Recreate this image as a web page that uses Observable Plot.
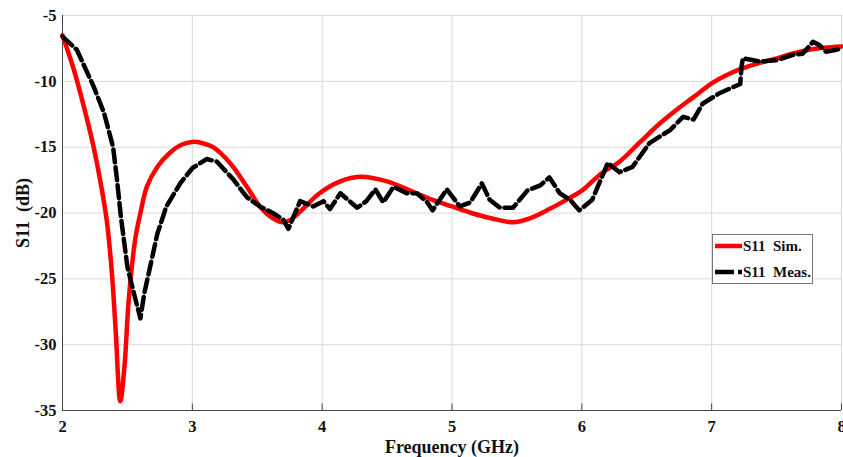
<!DOCTYPE html>
<html>
<head>
<meta charset="utf-8">
<script src="https://cdn.jsdelivr.net/npm/d3@7"></script>
<script src="https://cdn.jsdelivr.net/npm/@observablehq/plot@0.6"></script>
<style>
  html, body { margin: 0; padding: 0; background: #fff; }
  #wrap { position: relative; width: 843px; height: 457px; font-family: "Liberation Serif", "Times New Roman", serif; font-weight: bold; }
  #legend { position: absolute; left: 712px; top: 234px; width: 101px; height: 50px; border: 1px solid #777; background: #fff; box-sizing: border-box; }
  #legend .row { position: absolute; left: 2px; height: 18px; display: flex; align-items: center; font-size: 15px; color: #111; white-space: pre; }
  #legend svg { margin-right: 1px; }
</style>
</head>
<body>
<div id="wrap">
  <div id="chart"></div>
  <div id="legend">
    <div class="row" style="top:2px"><svg width="27" height="8"><line x1="0" y1="4" x2="27" y2="4" stroke="#ff0000" stroke-width="4.5"/></svg>S11  Sim.</div>
    <div class="row" style="top:28px"><svg width="27" height="8"><line x1="0" y1="4" x2="27" y2="4" stroke="#000" stroke-width="4.5" stroke-dasharray="19,4"/></svg>S11  Meas.</div>
  </div>
</div>
<script>
const xTicks = [2, 3, 4, 5, 6, 7, 8];
const yTicks = [-35, -30, -25, -20, -15, -10, -5];

const simFreq = [2.0, 2.087, 2.164, 2.24, 2.29, 2.34, 2.38, 2.41, 2.445, 2.477, 2.51, 2.56, 2.6, 2.65, 2.73, 2.83, 2.92, 3.0, 3.08, 3.16, 3.29, 3.42, 3.52, 3.62, 3.7, 3.76, 3.83, 3.98, 4.14, 4.29, 4.5, 4.7, 4.85, 5.0, 5.15, 5.3, 5.47, 5.6, 5.75, 5.88, 6.0, 6.15, 6.29, 6.45, 6.6, 6.75, 6.86, 7.0, 7.12, 7.24, 7.37, 7.5, 7.62, 7.75, 7.87, 8.0];
const simS11 = [-6.5, -9.1, -11.9, -15.0, -17.5, -20.5, -24.5, -29.0, -34.3, -31.7, -26.6, -22.0, -20.0, -18.0, -16.5, -15.4, -14.8, -14.6, -14.7, -15.0, -16.2, -18.0, -19.5, -20.4, -20.7, -20.5, -19.9, -18.5, -17.6, -17.25, -17.6, -18.4, -19.0, -19.5, -20.0, -20.4, -20.7, -20.4, -19.7, -19.0, -18.3, -17.0, -16.1, -14.6, -13.2, -12.0, -11.2, -10.15, -9.5, -9.0, -8.6, -8.25, -7.9, -7.6, -7.45, -7.35];

const measFreq = [2.0, 2.11, 2.24, 2.32, 2.39, 2.42, 2.45, 2.5, 2.55, 2.6, 2.63, 2.73, 2.8, 2.91, 3.0, 3.11, 3.19, 3.32, 3.42, 3.52, 3.62, 3.7, 3.74, 3.83, 3.93, 4.01, 4.06, 4.14, 4.27, 4.34, 4.41, 4.47, 4.55, 4.65, 4.73, 4.81, 4.85, 4.96, 5.06, 5.14, 5.23, 5.29, 5.37, 5.47, 5.58, 5.68, 5.75, 5.83, 5.91, 5.98, 6.08, 6.2, 6.29, 6.39, 6.52, 6.68, 6.78, 6.86, 6.93, 7.06, 7.22, 7.23, 7.24, 7.37, 7.5, 7.62, 7.7, 7.78, 7.83, 7.88, 7.96, 8.0];
const measS11 = [-6.6, -7.6, -10.4, -12.4, -15.0, -17.5, -20.3, -24.1, -26.1, -28.0, -26.1, -21.6, -19.5, -17.7, -16.6, -15.9, -16.1, -17.5, -18.8, -19.5, -20.0, -20.5, -21.2, -19.1, -19.5, -19.1, -19.7, -18.5, -19.6, -19.1, -18.2, -19.2, -18.0, -18.5, -18.5, -19.2, -19.8, -18.2, -19.5, -19.2, -17.75, -19.0, -19.6, -19.6, -18.3, -17.9, -17.3, -18.5, -19.0, -19.8, -19.0, -16.2, -16.9, -16.5, -14.7, -13.7, -12.7, -12.9, -11.7, -10.9, -10.2, -8.9, -8.25, -8.5, -8.4, -8.0, -7.9, -7.0, -7.25, -7.75, -7.6, -7.5];

const sim = simFreq.map((f, i) => ({f, v: simS11[i]}));
const meas = measFreq.map((f, i) => ({f, v: measS11[i]}));

const chart = Plot.plot({
  width: 843,
  height: 457,
  marginLeft: 62,
  marginRight: 2,
  marginTop: 15,
  marginBottom: 47,
  style: {fontFamily: "'Liberation Serif', 'Times New Roman', serif", fontWeight: "bold", fontSize: "16px", color: "#111", background: "#fff", overflow: "visible"},
  x: {type: "linear", domain: [2, 8]},
  y: {type: "linear", domain: [-35, -5]},
  marks: [
    Plot.gridX(xTicks, {stroke: "#d9d9d9", strokeOpacity: 1, strokeWidth: 1}),
    Plot.gridY(yTicks, {stroke: "#d9d9d9", strokeOpacity: 1, strokeWidth: 1}),
    Plot.ruleX([2], {stroke: "#444", strokeWidth: 1}),
    Plot.ruleY([-35], {stroke: "#444", strokeWidth: 1}),
    Plot.ruleX(xTicks, {x: d => d, y1: () => -35, y2: () => -34.5, stroke: "#444", strokeWidth: 1}),
    Plot.axisX(xTicks, {tickSize: 0, tickPadding: 10, tickFormat: d => d, fontSize: 16.5, label: null}),
    Plot.axisX({tickSize: 0, ticks: [], label: "Frequency (GHz)", labelAnchor: "center", labelOffset: 42, labelArrow: "none", fontSize: 18}),
    Plot.axisY(yTicks, {tickSize: 0, tickPadding: 6, tickFormat: d => d, fontSize: 16.5, label: null}),
    Plot.axisY({tickSize: 0, ticks: [], label: "S11\u00a0 (dB)", labelAnchor: "center", labelOffset: 46, labelArrow: "none", fontSize: 18}),
    Plot.line(sim, {x: "f", y: "v", stroke: "#ff0000", strokeWidth: 4.5, curve: "catmull-rom"}),
    Plot.line(meas, {x: "f", y: "v", stroke: "#000", strokeWidth: 4.5, strokeDasharray: "13,5", strokeLinejoin: "round"})
  ]
});
document.getElementById("chart").appendChild(chart);
</script>
</body>
</html>
